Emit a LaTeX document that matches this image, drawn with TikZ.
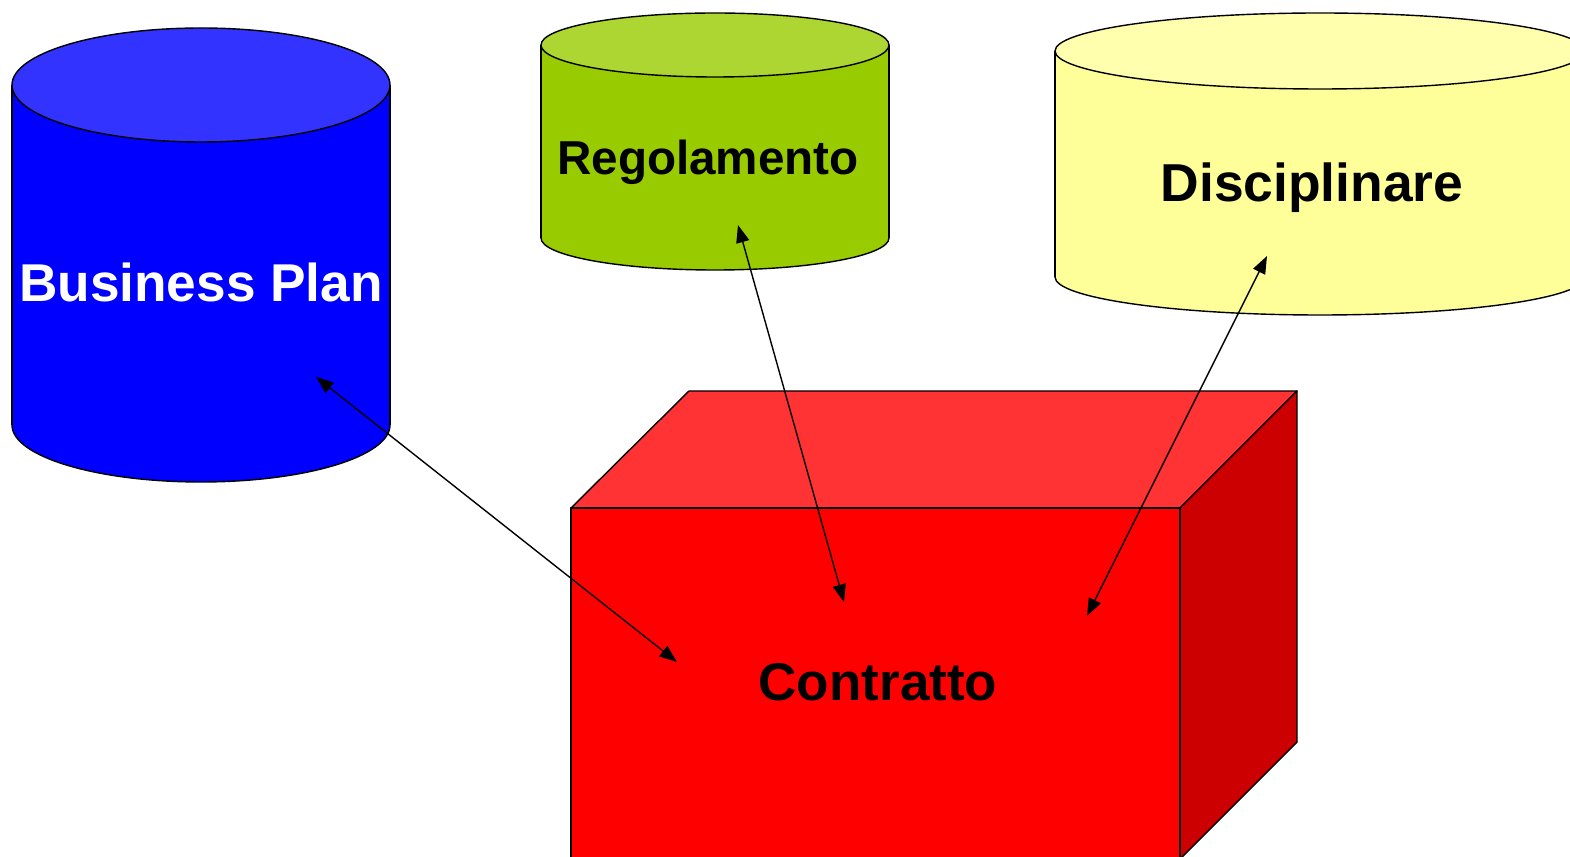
\documentclass[tikz,border=0pt]{standalone}
\usepackage{fontspec}
\setmainfont{Liberation Sans}
\usetikzlibrary{arrows.meta}

\definecolor{bpside}{HTML}{0000FF}
\definecolor{bptop}{HTML}{3333FF}
\definecolor{regside}{HTML}{99CC00}
\definecolor{regtop}{HTML}{ADD633}
\definecolor{discside}{HTML}{FFFF99}
\definecolor{disctop}{HTML}{FFFFAD}
\definecolor{boxfront}{HTML}{FF0000}
\definecolor{boxtop}{HTML}{FF3333}
\definecolor{boxside}{HTML}{CC0000}

\tikzset{
  outline/.style={draw=black, line width=0.8pt, line join=round},
  label/.style={font=\bfseries, inner sep=0pt, anchor=base},
  link/.style={draw=black, line width=0.8pt,
    {Triangle[length=10pt,width=7.5pt]}-{Triangle[length=10pt,width=7.5pt]}},
}

% cylinder: #1 centre x, #2 top centre y, #3 bottom centre y, #4 rx, #5 ry, #6 side, #7 top
\newcommand{\drumshape}[7]{%
  \path[outline, fill=#6] (#1,#3) ellipse [x radius=#4, y radius=#5];
  \fill[#6] (#1-#4,#2) rectangle (#1+#4,#3);
  \draw[outline] (#1-#4,#2) -- (#1-#4,#3) (#1+#4,#2) -- (#1+#4,#3);
  \path[outline, fill=#7] (#1,#2) ellipse [x radius=#4, y radius=#5];
}

\begin{document}
\begin{tikzpicture}[x=0.02cm, y=-0.02cm]
\useasboundingbox (0,0) rectangle (1570,857);
\clip (0,0) rectangle (1570,857);
\fill[white] (0,0) rectangle (1570,857);

% storage cylinders
\drumshape{201}{85}{425}{189}{57}{bpside}{bptop}
\drumshape{715}{45}{238}{174}{32}{regside}{regtop}
\drumshape{1320}{51}{277}{265}{38}{discside}{disctop}

% the box
\path[outline, fill=boxtop] (571,508) -- (689,391) -- (1297,391) -- (1180,508) -- cycle;
\path[outline, fill=boxside] (1180,508) -- (1297,391) -- (1297,742) -- (1180,859) -- cycle;
\path[outline, fill=boxfront] (571,508) rectangle (1180,859);

% labels (placed on their baselines)
\node[label, text=white, font=\fontsize{30.3}{36}\selectfont\bfseries] (bp) at (201,302) {Business Plan};
\node[label, font=\fontsize{27.1}{32}\selectfont\bfseries] (reg) at (708,175) {Regolamento};
\node[label, font=\fontsize{30.4}{36}\selectfont\bfseries] (disc) at (1312,202) {Disciplinare};
\node[label, font=\fontsize{30.2}{36}\selectfont\bfseries] (con) at (878,701) {Contratto};

% connector ends
\coordinate (bpEnd) at (316,377);
\coordinate (conA) at (677,662);
\coordinate (regEnd) at (738,225);
\coordinate (conB) at (844,602);
\coordinate (discEnd) at (1267,256);
\coordinate (conC) at (1087,616);

\draw[link] (bpEnd) -- (conA);
\draw[link] (regEnd) -- (conB);
\draw[link] (discEnd) -- (conC);
\end{tikzpicture}
\end{document}
